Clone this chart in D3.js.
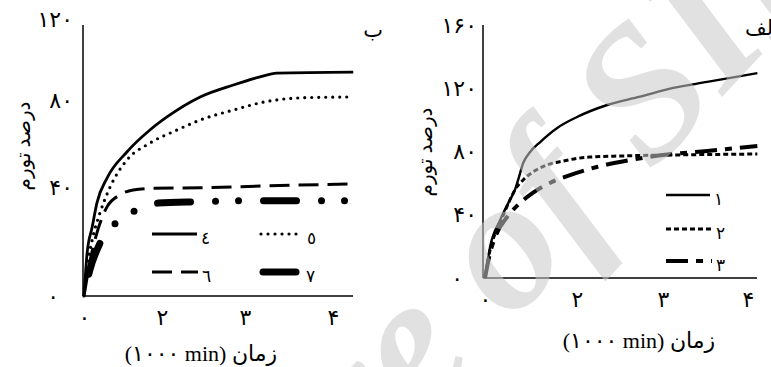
<!DOCTYPE html>
<html>
<head>
<meta charset="utf-8">
<script src="https://cdn.jsdelivr.net/npm/d3@7"></script>
<style>
  html, body { margin: 0; padding: 0; background: #fff; }
  svg { display: block; }
</style>
</head>
<body>
<svg id="chart" width="771" height="367"></svg>
<script>
// tick values (both panels)
const ticksX = [0, 2, 3, 4];
const ticksYB = [0, 40, 80, 120];
const ticksYA = [0, 40, 80, 120, 160];

// panel ب : series ٤ .. ٧ (time in 1000 min, swelling %)
const t4 = [0, 0.08, 0.21, 0.33, 0.59, 1.10, 1.69, 2.06, 2.46, 2.86, 3.17, 3.36, 4.23];
const v4 = [0, 15.8, 25.3, 34.1, 44.1, 56.1, 66.2, 72.2, 81.5, 87.4, 91.4, 93.3, 93.8];
const t5 = [0, 0.08, 0.21, 0.41, 0.67, 1.10, 1.69, 2.18, 2.46, 2.86, 3.22, 3.60, 4.17];
const v5 = [0, 10.6, 20.6, 30.5, 40.0, 52.4, 60.2, 66.2, 70.8, 75.4, 79.1, 81.0, 81.5];
const t6 = [0, 0.15, 0.33, 0.59, 0.92, 1.26, 1.77, 2.46, 3.22, 4.23];
const v6 = [0, 12.5, 23.1, 32.7, 37.1, 38.9, 39.5, 39.7, 40.5, 41.4];
const t7 = [0, 0.15, 0.41, 0.85, 1.36, 1.90, 2.43, 2.98, 4.17];
const v7 = [0, 9.5, 19.4, 27.2, 31.6, 34.1, 34.6, 35.0, 35.0];

// panel الف : series ١ .. ٣
const t1 = [0, 0.11, 0.33, 0.54, 0.65, 0.72, 0.83, 0.98, 1.20, 1.57, 2.00, 2.35, 2.72, 3.12, 3.52, 4.11];
const v1 = [0, 19.6, 36.7, 49.3, 55.7, 62.0, 72.7, 79.7, 86.0, 94.9, 101.8, 109.4, 114.5, 120.2, 124.0, 129.6];
const t2 = [0, 0.11, 0.33, 0.54, 0.65, 0.83, 1.04, 1.35, 1.70, 2.15, 2.53, 3.12, 4.11];
const v2 = [0, 17.7, 34.8, 49.3, 55.7, 62.0, 67.0, 71.5, 74.0, 76.5, 77.2, 77.8, 78.4];
const t3 = [0, 0.11, 0.26, 0.48, 0.76, 1.04, 1.41, 1.85, 2.23, 2.62, 3.00, 3.52, 4.11];
const v3 = [0, 15.8, 28.5, 38.6, 47.4, 53.8, 60.1, 65.1, 70.2, 74.6, 77.8, 80.3, 83.5];

const namesB = ['٤', '٥', '٦', '٧'];
const namesA = ['١', '٢', '٣'];

const FONT = '"Liberation Serif", "DejaVu Sans", serif';
const fa = d => String(d).replace(/\d/g, c => '۰۱۲۳۴۵۶۷۸۹'[c]);
const zip = (t, v) => t.map((x, i) => ({ x, y: v[i] }));

const svg = d3.select('#chart');

// line styles
const styles = {
  solid:   { w: 2.8, dash: null, cap: 'butt' },
  dotted:  { w: 3.2, dash: '0 7', cap: 'round' },
  dashed:  { w: 3, dash: '20 9', cap: 'butt' },
  thickDD: { w: 7, dash: '33 25 0 23 0 25', cap: 'round', offset: -22 },
  thin:    { w: 2.4, dash: null, cap: 'butt' },
  short:   { w: 3, dash: '5 3', cap: 'butt' },
  longS:   { w: 4, dash: '22 8 7 8', cap: 'butt' }
};

function styleLine(sel, s, legend) {
  sel.attr('fill', 'none')
    .attr('stroke', '#000')
    .attr('stroke-width', s.w)
    .attr('stroke-linecap', s.cap)
    .attr('stroke-dasharray', s.dash)
    .attr('stroke-dashoffset', legend ? null : (s.offset || null));
  return sel;
}

function panel(opt) {
  const g = svg.append('g');
  const x = d3.scaleLinear().domain(ticksX).range(opt.xr);
  const y = d3.scaleLinear().domain(opt.yd).range(opt.yr);

  // axes
  const ax = g.append('g')
    .attr('transform', `translate(0,${opt.bottom})`)
    .call(d3.axisBottom(x).tickValues(ticksX).tickSize(0).tickPadding(13).tickFormat(fa));
  const ay = g.append('g')
    .attr('transform', `translate(${opt.left},0)`)
    .call(d3.axisLeft(y).tickValues(opt.ticksY).tickSize(0).tickPadding(opt.yPad).tickFormat(fa));
  [ax, ay].forEach(a => {
    a.select('.domain').remove();
    a.selectAll('text').attr('font-family', FONT).attr('font-size', 22).attr('fill', '#000');
  });
  ay.selectAll('.tick').filter(d => d === 0).select('text').attr('dx', -opt.zeroShift);

  g.append('line')
    .attr('x1', opt.left).attr('x2', opt.left)
    .attr('y1', opt.top).attr('y2', opt.bottom)
    .attr('stroke', '#000').attr('stroke-width', 1.5);
  g.append('line')
    .attr('x1', opt.left).attr('x2', opt.right)
    .attr('y1', opt.bottom).attr('y2', opt.bottom)
    .attr('stroke', '#000').attr('stroke-width', 1.5);

  // curves
  const line = d3.line().x(d => x(d.x)).y(d => y(d.y)).curve(d3.curveMonotoneX);
  opt.series.forEach(s => {
    styleLine(g.append('path').datum(s.data).attr('d', line), styles[s.style], false);
  });

  // legend
  opt.series.forEach(s => {
    const lg = s.legend;
    styleLine(g.append('line')
      .attr('x1', lg[0]).attr('x2', lg[1])
      .attr('y1', lg[2]).attr('y2', lg[2]), styles[s.style], true);
    g.append('text')
      .attr('x', lg[1] + 4).attr('y', lg[2] + 10)
      .attr('font-family', FONT).attr('font-size', 17)
      .text(s.name);
  });

  // titles
  g.append('text')
    .attr('x', opt.xTitle[0]).attr('y', opt.xTitle[1])
    .attr('text-anchor', 'middle')
    .attr('direction', 'ltr')
    .attr('font-family', FONT).attr('font-size', 22)
    .text('(۱۰۰۰ min) زمان');
  g.append('text')
    .attr('transform', `translate(${opt.yTitle[0]},${opt.yTitle[1]}) rotate(-90)`)
    .attr('text-anchor', 'middle')
    .attr('font-family', FONT).attr('font-size', 20)
    .text('درصد تورم');
  g.append('text')
    .attr('x', opt.tag[0]).attr('y', opt.tag[1])
    .attr('text-anchor', 'end')
    .attr('font-family', FONT).attr('font-size', 21)
    .text(opt.tagText);
}

panel({
  xr: [84, 162, 245, 333], yd: ticksYB, yr: [296, 187, 100, 19], ticksY: ticksYB,
  left: 83, right: 353, top: 25, bottom: 296, yPad: 10, zeroShift: 14,
  xTitle: [201, 361], yTitle: [30, 146], tag: [383, 37], tagText: 'ب',
  series: [
    { name: namesB[0], data: zip(t4, v4), style: 'solid',   legend: [152, 197, 234] },
    { name: namesB[1], data: zip(t5, v5), style: 'dotted',  legend: [261, 303, 234] },
    { name: namesB[2], data: zip(t6, v6), style: 'dashed',  legend: [152, 198, 272] },
    { name: namesB[3], data: zip(t7, v7), style: 'thickDD', legend: [263, 302, 272] }
  ]
});

panel({
  xr: [485, 577, 663, 748], yd: [0, 160], yr: [278, 25], ticksY: ticksYA,
  left: 483, right: 757, top: 25, bottom: 278, yPad: 6, zeroShift: 14,
  xTitle: [639, 348], yTitle: [432, 152], tag: [779, 35], tagText: 'الف',
  series: [
    { name: namesA[0], data: zip(t1, v1), style: 'thin',  legend: [666, 710, 195] },
    { name: namesA[1], data: zip(t2, v2), style: 'short', legend: [666, 712, 229] },
    { name: namesA[2], data: zip(t3, v3), style: 'longS', legend: [666, 712, 261] }
  ]
});

// watermark over the figure
const wm = svg.append('g')
  .attr('transform', 'translate(421,420) rotate(-47)')
  .attr('pointer-events', 'none');
const wmText = wm.append('text')
  .attr('font-family', '"Liberation Serif", serif')
  .attr('font-style', 'italic')
  .attr('font-weight', 'bold')
  .attr('font-size', 190)
  .attr('fill', '#c8c8c8')
  .attr('fill-opacity', 0.55)
  .text('Archive of SID');
wmText.attr('x', -wmText.node().getSubStringLength(0, 6));
</script>
</body>
</html>
